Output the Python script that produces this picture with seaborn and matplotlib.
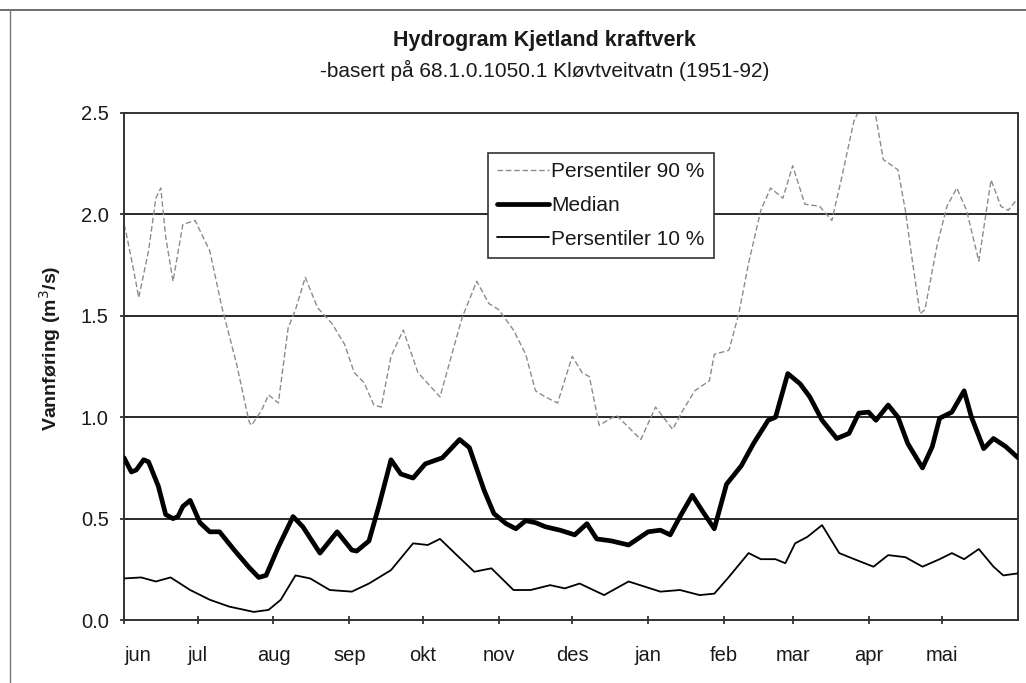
import numpy as np
import pandas as pd
import matplotlib
matplotlib.use('Agg')
import matplotlib.pyplot as plt
from matplotlib.lines import Line2D
import seaborn as sns

sns.set_theme(style='white')
plt.rcParams['font.family'] = ['Liberation Sans', 'DejaVu Sans']

# Days since 1 June, values in m3/s
P90_DAY = [0, 1, 4, 6, 10, 13, 15, 17, 20, 24, 29, 35, 40, 46, 51, 52, 56, 59, 63, 67,
           70, 74, 79, 85, 90, 94, 98, 102, 105, 109, 114, 120, 129, 138, 144, 149, 153,
           159, 164, 168, 172, 177, 183, 187, 190, 194, 201, 206, 211, 217, 224, 228, 233,
           239, 241, 247, 251, 255, 260, 264, 269, 273, 278, 284, 289, 293, 298, 302, 306,
           310, 316, 319, 322, 325, 327, 332, 336, 340, 344, 349, 354, 358, 361, 365]
P90_VAL = [1.95, 1.90, 1.72, 1.59, 1.82, 2.08, 2.13, 1.89, 1.67, 1.95, 1.97, 1.82, 1.54,
           1.26, 0.98, 0.96, 1.03, 1.11, 1.07, 1.44, 1.53, 1.69, 1.54, 1.46, 1.36, 1.22,
           1.17, 1.06, 1.05, 1.30, 1.43, 1.22, 1.10, 1.49, 1.67, 1.56, 1.53, 1.43, 1.31,
           1.13, 1.10, 1.07, 1.30, 1.22, 1.20, 0.96, 1.01, 0.95, 0.89, 1.05, 0.94, 1.03,
           1.13, 1.18, 1.31, 1.33, 1.51, 1.76, 2.02, 2.13, 2.08, 2.24, 2.05, 2.04, 1.97,
           2.18, 2.46, 2.56, 2.55, 2.27, 2.22, 2.02, 1.76, 1.51, 1.53, 1.85, 2.04, 2.13,
           2.02, 1.77, 2.17, 2.04, 2.02, 2.08]

MED_DAY = [0, 3, 5, 8, 10, 14, 17, 20, 22, 24, 27, 31, 35, 39, 45, 51, 55, 58, 63, 69,
           73, 80, 87, 93, 95, 100, 104, 109, 113, 118, 123, 130, 137, 141, 147, 151, 156,
           160, 164, 168, 172, 178, 184, 189, 193, 199, 206, 214, 219, 223, 227, 232, 236,
           241, 246, 252, 257, 263, 266, 271, 276, 280, 285, 291, 296, 300, 304, 307, 312,
           316, 320, 326, 330, 333, 338, 343, 346, 351, 355, 360, 365]
MED_VAL = [0.80, 0.73, 0.74, 0.79, 0.78, 0.66, 0.52, 0.50, 0.51, 0.56, 0.59, 0.48, 0.435,
           0.435, 0.345, 0.26, 0.21, 0.22, 0.36, 0.51, 0.46, 0.33, 0.435, 0.345, 0.34, 0.39,
           0.56, 0.79, 0.72, 0.70, 0.77, 0.80, 0.89, 0.85, 0.64, 0.525, 0.475, 0.45, 0.49,
           0.48, 0.46, 0.443, 0.42, 0.475, 0.40, 0.39, 0.37, 0.435, 0.443, 0.42, 0.51,
           0.615, 0.54, 0.45, 0.67, 0.76, 0.87, 0.985, 1.0, 1.215, 1.165, 1.10, 0.985,
           0.895, 0.92, 1.02, 1.025, 0.985, 1.06, 1.0, 0.87, 0.75, 0.855, 0.995, 1.025,
           1.13, 1.0, 0.845, 0.895, 0.855, 0.80]

P10_DAY = [0, 7, 13, 19, 27, 35, 43, 53, 59, 64, 70, 76, 84, 93, 100, 109, 118, 124, 129,
           135, 143, 150, 159, 166, 174, 180, 186, 196, 206, 219, 227, 235, 241, 247, 255,
           260, 266, 270, 274, 279, 285, 292, 299, 306, 312, 319, 326, 333, 338, 343, 349,
           355, 359, 365]
P10_VAL = [0.205, 0.21, 0.19, 0.21, 0.148, 0.10, 0.066, 0.04, 0.05, 0.10, 0.22, 0.205,
           0.148, 0.14, 0.18, 0.246, 0.378, 0.37, 0.40, 0.33, 0.238, 0.255, 0.148, 0.148,
           0.172, 0.156, 0.18, 0.123, 0.19, 0.14, 0.148, 0.123, 0.13, 0.213, 0.33, 0.30,
           0.30, 0.28, 0.378, 0.41, 0.468, 0.33, 0.296, 0.263, 0.32, 0.31, 0.263, 0.30,
           0.33, 0.30, 0.35, 0.263, 0.22, 0.23]

MONTH_START = [0, 30, 61, 92, 122, 153, 183, 214, 245, 273, 304, 334]
MONTHS = ['jun', 'jul', 'aug', 'sep', 'okt', 'nov', 'des', 'jan', 'feb', 'mar', 'apr', 'mai']

fig = plt.figure(figsize=(10.26, 6.83), dpi=100)
ax = fig.add_axes([0.1209, 0.0922, 0.8713, 0.7424])

# grid first so the curves sit on top
for yv in [0.5, 1.0, 1.5, 2.0]:
    ax.axhline(yv, color='#2a2a2a', lw=1.4, zorder=1)

sns.lineplot(x=P90_DAY, y=P90_VAL, ax=ax, color='#8c8c8c', lw=1.0,
             label='Persentiler 90 %', zorder=2)
ax.lines[-1].set_dashes((4, 2))
sns.lineplot(x=MED_DAY, y=MED_VAL, ax=ax, color='black', lw=3.4,
             label='Median', zorder=3)
sns.lineplot(x=P10_DAY, y=P10_VAL, ax=ax, color='black', lw=1.3,
             label='Persentiler 10 %', zorder=3)

ax.set_xlim(0, 365)
ax.set_ylim(0, 2.5)
ax.set_yticks([0, 0.5, 1.0, 1.5, 2.0, 2.5])
ax.set_yticklabels([f'{v:.1f}' for v in [0, 0.5, 1.0, 1.5, 2.0, 2.5]])
ax.set_xticks(MONTH_START)
ax.set_xticklabels(MONTHS)
ax.get_xticklabels()[0].set_horizontalalignment('left')
ax.tick_params(axis='both', direction='inout', length=6, width=1.2, color='#222222',
               labelsize=14.5, colors='#1a1a1a')
ax.tick_params(axis='x', pad=16, bottom=True)
ax.tick_params(axis='y', pad=8, left=True)

for sp in ax.spines.values():
    sp.set_visible(True)
    sp.set_color('#333333')
    sp.set_linewidth(1.4)

ax.set_xlabel('')
ax.set_ylabel('Vannføring (m$^3$/s)', fontsize=14, fontweight='bold', color='#1a1a1a')
ax.yaxis.set_label_coords(-0.068, 0.536)

leg = ax.legend(loc='upper left', bbox_to_anchor=(0.407, 0.921), borderaxespad=0,
                frameon=True, fancybox=False, framealpha=1, edgecolor='#333333',
                fontsize=15, handlelength=2.5, handletextpad=0.1,
                labelspacing=0.7, borderpad=0.45)
leg.get_frame().set_linewidth(1.2)
for t in leg.get_texts():
    t.set_color('#1a1a1a')

fig.text(0.531, 0.941, 'Hydrogram Kjetland kraftverk', ha='center', va='center',
         fontsize=15.5, fontweight='bold', color='#1a1a1a')
fig.text(0.531, 0.897, '-basert på 68.1.0.1050.1 Kløvtveitvatn (1951-92)', ha='center',
         va='center', fontsize=15, color='#1a1a1a')

# scanned page border
fig.add_artist(Line2D([0, 1], [0.985, 0.985], color='#555555', lw=1.2))
fig.add_artist(Line2D([0.0097, 0.0097], [0, 0.985], color='#777777', lw=1.0))

fig.savefig('out.png', dpi=100)
